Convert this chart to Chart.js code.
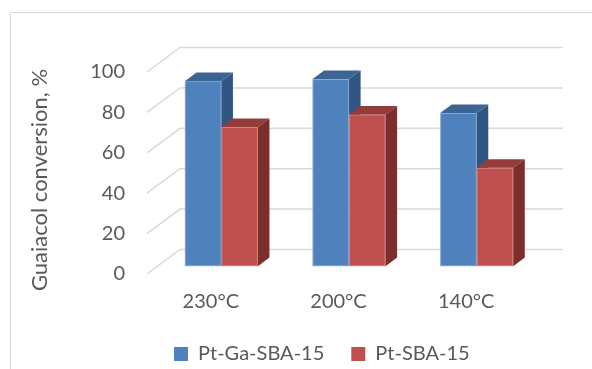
<!DOCTYPE html>
<html>
<head>
<meta charset="utf-8">
<script src="https://cdn.jsdelivr.net/npm/chart.js@4/dist/chart.umd.min.js"></script>
<style>
  html, body { margin: 0; padding: 0; background: #ffffff; overflow: hidden; }
  #wrap { position: relative; width: 592px; height: 369px; }
</style>
</head>
<body>
<div id="wrap"><canvas id="c" width="592" height="369"></canvas></div>
<script>
// Guaiacol conversion over the two catalysts at three temperatures
const temperatures = ['230°C', '200°C', '140°C'];
const ptGaSba15 = [91.6, 92.6, 75.8];
const ptSba15 = [68.9, 75.1, 48.7];
const seriesNames = ['Pt-Ga-SBA-15', 'Pt-SBA-15'];
const valueTicks = [0, 20, 40, 60, 80, 100];
const axisTitle = 'Guaiacol conversion, %';

// 3-D look: oblique depth of the floor and where the columns sit in it
const DEPTH_X = 33;
const DEPTH_Y = 24.5;
const COL_FRONT = 0.32;
const COL_BACK = 0.67;

const faces = [
  { front: '#4f81bd', top: '#3d6594', side: '#315684' },
  { front: '#c0504d', top: '#943c39', side: '#7b2f2d' }
];

const TEXT = '#595959';
const FONT = 'Lato, "Open Sans", sans-serif';

const columns3d = {
  id: 'columns3d',
  beforeDraw(chart) {
    // outer frame of the chart
    const ctx = chart.ctx;
    ctx.save();
    ctx.strokeStyle = '#d9d9d9';
    ctx.lineWidth = 1;
    ctx.beginPath();
    ctx.moveTo(10.5, chart.height);
    ctx.lineTo(10.5, 12.5);
    ctx.lineTo(chart.width, 12.5);
    ctx.stroke();
    ctx.restore();
  },
  beforeDatasetsDraw(chart) {
    const { ctx, chartArea: a, scales: { y } } = chart;
    ctx.save();
    // back wall gridlines with their diagonal on the side wall
    ctx.strokeStyle = '#d9d9d9';
    ctx.lineWidth = 1.5;
    valueTicks.forEach(v => {
      const yf = y.getPixelForValue(v);
      ctx.beginPath();
      ctx.moveTo(a.left, yf);
      ctx.lineTo(a.left + DEPTH_X, yf - DEPTH_Y);
      ctx.lineTo(a.right + DEPTH_X, yf - DEPTH_Y);
      ctx.stroke();
    });

    const sx = COL_FRONT * DEPTH_X, sy = COL_FRONT * DEPTH_Y;
    const ox = (COL_BACK - COL_FRONT) * DEPTH_X, oy = (COL_BACK - COL_FRONT) * DEPTH_Y;
    const metas = chart.data.datasets.map((_, i) => chart.getDatasetMeta(i));
    temperatures.forEach((_, idx) => {
      metas.forEach((meta, di) => {
        const bar = meta.data[idx];
        const { x, y: top, base, width } = bar.getProps(['x', 'y', 'base', 'width'], true);
        const l = x - width / 2 + sx, r = x + width / 2 + sx;
        const t = top - sy, b = base - sy;
        const c = faces[di];
        // front face with a faint light edge
        ctx.fillStyle = c.front;
        ctx.fillRect(l, t, r - l, b - t);
        ctx.strokeStyle = 'rgba(255,255,255,0.3)';
        ctx.lineWidth = 1;
        ctx.strokeRect(l + 0.5, t + 0.5, r - l - 1, b - t - 1);
        // top face
        ctx.fillStyle = c.top;
        ctx.beginPath();
        ctx.moveTo(l, t); ctx.lineTo(l + ox, t - oy); ctx.lineTo(r + ox, t - oy); ctx.lineTo(r, t);
        ctx.closePath(); ctx.fill();
        // right side face
        ctx.fillStyle = c.side;
        ctx.beginPath();
        ctx.moveTo(r, t); ctx.lineTo(r + ox, t - oy); ctx.lineTo(r + ox, b - oy); ctx.lineTo(r, b);
        ctx.closePath(); ctx.fill();
      });
    });
    ctx.restore();
    return false;
  },
  afterDraw(chart) {
    // value axis title
    const ctx = chart.ctx;
    ctx.save();
    ctx.translate(40, 180);
    ctx.rotate(-Math.PI / 2);
    ctx.fillStyle = TEXT;
    ctx.font = '22px ' + FONT;
    ctx.textAlign = 'center';
    ctx.textBaseline = 'middle';
    ctx.fillText(axisTitle, 0, 0);
    ctx.restore();
  }
};

new Chart(document.getElementById('c'), {
  type: 'bar',
  data: {
    labels: temperatures,
    datasets: [
      { label: seriesNames[0], data: ptGaSba15, backgroundColor: faces[0].front },
      { label: seriesNames[1], data: ptSba15, backgroundColor: faces[1].front }
    ]
  },
  options: {
    responsive: false,
    animation: false,
    events: [],
    categoryPercentage: 0.572,
    barPercentage: 1,
    layout: { padding: { left: 0, right: 62, top: 72, bottom: -5 } },
    plugins: {
      tooltip: { enabled: false },
      legend: {
        position: 'bottom',
        fullSize: false,
        align: 'start',
        labels: {
          boxWidth: 14, boxHeight: 14, padding: 27,
          color: TEXT,
          font: { family: FONT, size: 20 }
        }
      }
    },
    scales: {
      x: {
        grid: { display: false, drawTicks: false },
        border: { display: false },
        ticks: { color: TEXT, font: { family: FONT, size: 20 }, padding: 16 },
        afterFit(s) { s.height = 43; }
      },
      y: {
        min: 0, max: 100,
        grid: { display: false, drawTicks: false },
        border: { display: false },
        ticks: { stepSize: 20, color: TEXT, font: { family: FONT, size: 20 }, padding: 22 },
        afterFit(s) { s.width = 147; }
      }
    }
  },
  plugins: [columns3d]
});
</script>
</body>
</html>
